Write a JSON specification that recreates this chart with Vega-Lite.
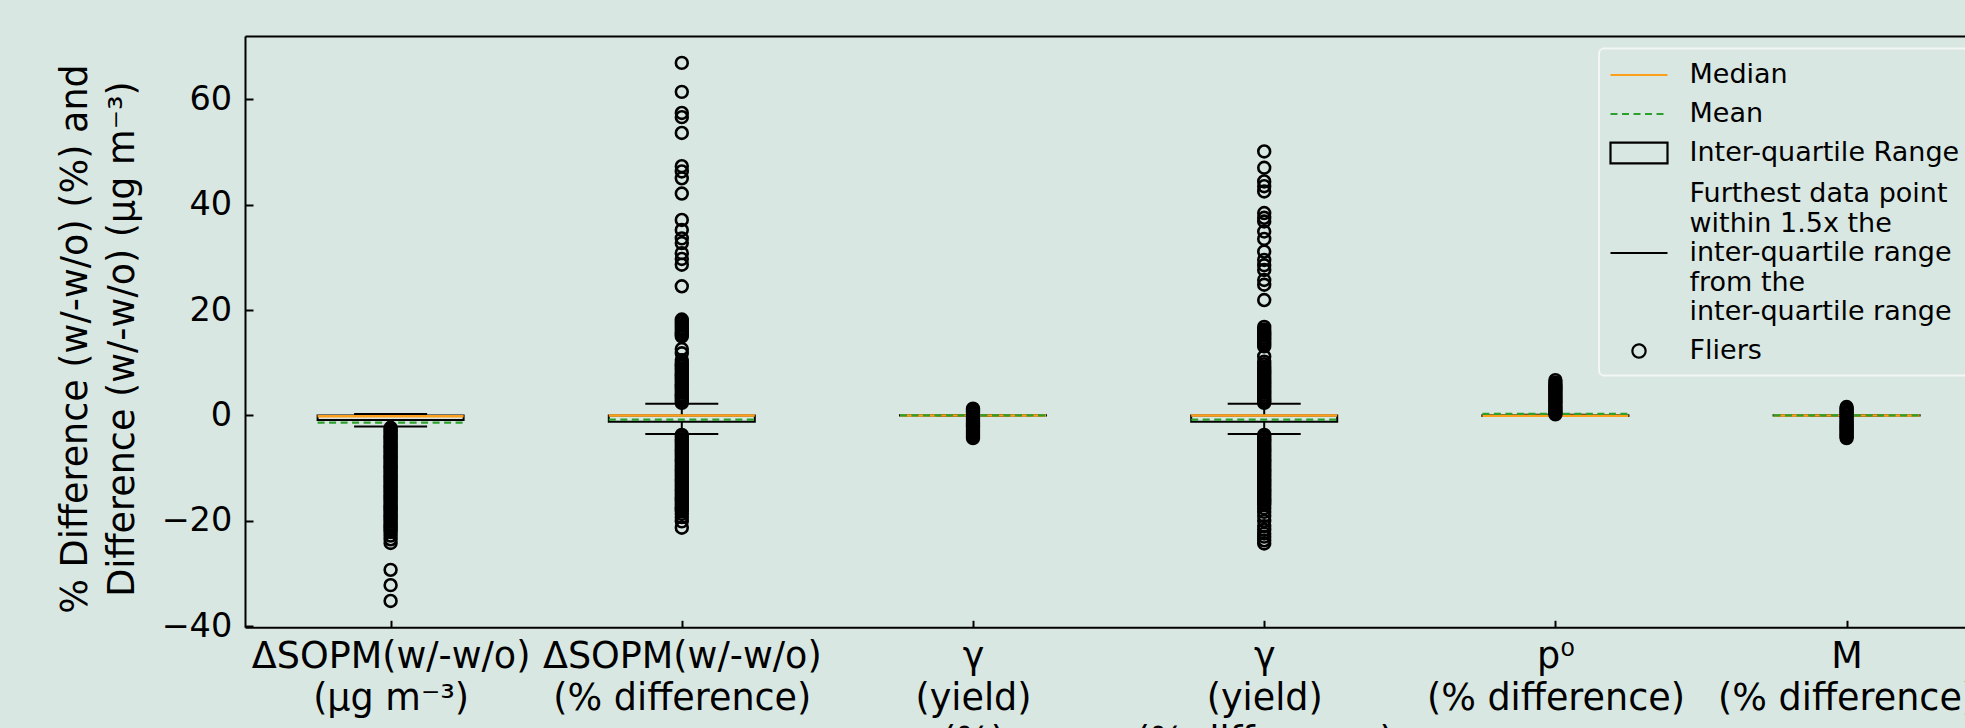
{
  "$schema": "https://vega.github.io/schema/vega-lite/v6.json",
  "width": 1720,
  "height": 591.3,
  "autosize": {"type": "none"},
  "padding": {"left": 245, "top": 36, "right": 0, "bottom": 100.7},
  "background": "#d9e7e2",
  "config": {
    "view": {"stroke": null},
    "font": "DejaVu Sans",
    "axis": {"grid": false, "domainColor": "#000000", "domainWidth": 2, "tickColor": "#000000", "tickWidth": 2, "labelColor": "#000000", "titleColor": "#000000", "labelFont": "DejaVu Sans", "titleFont": "DejaVu Sans", "titleFontWeight": "normal"}
  },
  "datasets": {
    "stats": [
      {"pos": 1, "name": "ΔSOPM(w/-w/o) (μg m⁻³)", "q1": -0.85, "q3": 0.0, "median": -0.15, "mean": -1.37, "lo": -2.1, "hi": 0.28},
      {"pos": 2, "name": "ΔSOPM(w/-w/o) (% difference)", "q1": -1.2, "q3": 0.0, "median": 0.0, "mean": -0.8, "lo": -3.5, "hi": 2.2},
      {"pos": 3, "name": "γ (yield) (%)", "q1": -0.03, "q3": 0.03, "median": 0.0, "mean": 0.02, "lo": -0.08, "hi": 0.08},
      {"pos": 4, "name": "γ (yield) (% difference)", "q1": -1.2, "q3": 0.0, "median": 0.0, "mean": -0.8, "lo": -3.5, "hi": 2.2},
      {"pos": 5, "name": "p⁰ (% difference)", "q1": -0.1, "q3": 0.05, "median": -0.08, "mean": 0.3, "lo": -0.1, "hi": 0.12},
      {"pos": 6, "name": "M (% difference)", "q1": -0.03, "q3": 0.03, "median": 0.0, "mean": 0.0, "lo": -0.08, "hi": 0.08}
    ],
    "fliers": [
      {"pos":1,"v":-2.35},{"pos":1,"v":-2.7},{"pos":1,"v":-3.1},{"pos":1,"v":-3.5},{"pos":1,"v":-3.9},{"pos":1,"v":-4.2},{"pos":1,"v":-4.6},{"pos":1,"v":-5.0},{"pos":1,"v":-5.4},{"pos":1,"v":-5.8},
      {"pos":1,"v":-6.1},{"pos":1,"v":-6.5},{"pos":1,"v":-6.9},{"pos":1,"v":-7.3},{"pos":1,"v":-7.7},{"pos":1,"v":-8.0},{"pos":1,"v":-8.4},{"pos":1,"v":-8.8},{"pos":1,"v":-9.2},{"pos":1,"v":-9.6},
      {"pos":1,"v":-9.9},{"pos":1,"v":-10.3},{"pos":1,"v":-10.7},{"pos":1,"v":-11.1},{"pos":1,"v":-11.5},{"pos":1,"v":-11.8},{"pos":1,"v":-12.2},{"pos":1,"v":-12.6},{"pos":1,"v":-13.0},{"pos":1,"v":-13.4},
      {"pos":1,"v":-13.7},{"pos":1,"v":-14.1},{"pos":1,"v":-14.5},{"pos":1,"v":-14.9},{"pos":1,"v":-15.3},{"pos":1,"v":-15.6},{"pos":1,"v":-16.0},{"pos":1,"v":-16.4},{"pos":1,"v":-16.8},{"pos":1,"v":-17.2},
      {"pos":1,"v":-17.5},{"pos":1,"v":-17.9},{"pos":1,"v":-18.3},{"pos":1,"v":-18.7},{"pos":1,"v":-19.1},{"pos":1,"v":-19.4},{"pos":1,"v":-19.8},{"pos":1,"v":-20.2},{"pos":1,"v":-20.6},{"pos":1,"v":-21.0},
      {"pos":1,"v":-21.3},{"pos":1,"v":-21.7},{"pos":1,"v":-22.1},{"pos":1,"v":-22.8},{"pos":1,"v":-23.5},{"pos":1,"v":-24.2},{"pos":1,"v":-29.3},{"pos":1,"v":-32.2},{"pos":1,"v":-35.2},
      {"pos":2,"v":2.4},{"pos":2,"v":2.8},{"pos":2,"v":3.2},{"pos":2,"v":3.6},{"pos":2,"v":3.9},{"pos":2,"v":4.3},{"pos":2,"v":4.7},{"pos":2,"v":5.1},{"pos":2,"v":5.5},{"pos":2,"v":5.8},
      {"pos":2,"v":6.2},{"pos":2,"v":6.6},{"pos":2,"v":7.0},{"pos":2,"v":7.4},{"pos":2,"v":7.7},{"pos":2,"v":8.1},{"pos":2,"v":8.5},{"pos":2,"v":8.9},{"pos":2,"v":9.3},{"pos":2,"v":9.6},
      {"pos":2,"v":10.0},{"pos":2,"v":10.5},{"pos":2,"v":11.8},{"pos":2,"v":12.6},{"pos":2,"v":15.0},{"pos":2,"v":15.4},{"pos":2,"v":15.8},{"pos":2,"v":16.2},{"pos":2,"v":16.6},{"pos":2,"v":17.0},
      {"pos":2,"v":17.4},{"pos":2,"v":17.8},{"pos":2,"v":18.2},{"pos":2,"v":24.5},{"pos":2,"v":28.6},{"pos":2,"v":29.7},{"pos":2,"v":30.8},{"pos":2,"v":32.7},{"pos":2,"v":33.6},{"pos":2,"v":35.2},
      {"pos":2,"v":37.1},{"pos":2,"v":42.1},{"pos":2,"v":45.0},{"pos":2,"v":46.3},{"pos":2,"v":47.3},{"pos":2,"v":53.6},{"pos":2,"v":56.6},{"pos":2,"v":57.4},{"pos":2,"v":61.4},{"pos":2,"v":66.9},
      {"pos":2,"v":-3.7},{"pos":2,"v":-4.1},{"pos":2,"v":-4.5},{"pos":2,"v":-4.8},{"pos":2,"v":-5.2},{"pos":2,"v":-5.6},{"pos":2,"v":-6.0},{"pos":2,"v":-6.4},{"pos":2,"v":-6.7},{"pos":2,"v":-7.1},
      {"pos":2,"v":-7.5},{"pos":2,"v":-7.9},{"pos":2,"v":-8.3},{"pos":2,"v":-8.6},{"pos":2,"v":-9.0},{"pos":2,"v":-9.4},{"pos":2,"v":-9.8},{"pos":2,"v":-10.2},{"pos":2,"v":-10.5},{"pos":2,"v":-10.9},
      {"pos":2,"v":-11.3},{"pos":2,"v":-11.7},{"pos":2,"v":-12.1},{"pos":2,"v":-12.4},{"pos":2,"v":-12.8},{"pos":2,"v":-13.2},{"pos":2,"v":-13.6},{"pos":2,"v":-14.0},{"pos":2,"v":-14.3},{"pos":2,"v":-14.7},
      {"pos":2,"v":-15.1},{"pos":2,"v":-15.5},{"pos":2,"v":-15.9},{"pos":2,"v":-16.2},{"pos":2,"v":-16.6},{"pos":2,"v":-17.0},{"pos":2,"v":-17.4},{"pos":2,"v":-17.8},{"pos":2,"v":-18.2},{"pos":2,"v":-18.7},
      {"pos":2,"v":-19.3},{"pos":2,"v":-20.1},{"pos":2,"v":-21.3},
      {"pos":3,"v":1.3},{"pos":3,"v":0.95},{"pos":3,"v":0.6},{"pos":3,"v":0.25},{"pos":3,"v":-0.15},{"pos":3,"v":-0.5},{"pos":3,"v":-0.85},{"pos":3,"v":-1.2},{"pos":3,"v":-1.55},{"pos":3,"v":-1.9},
      {"pos":3,"v":-2.25},{"pos":3,"v":-2.6},{"pos":3,"v":-2.95},{"pos":3,"v":-3.3},{"pos":3,"v":-3.65},{"pos":3,"v":-4.0},{"pos":3,"v":-4.3},
      {"pos":4,"v":2.4},{"pos":4,"v":2.8},{"pos":4,"v":3.1},{"pos":4,"v":3.5},{"pos":4,"v":3.9},{"pos":4,"v":4.3},{"pos":4,"v":4.7},{"pos":4,"v":5.0},{"pos":4,"v":5.4},{"pos":4,"v":5.8},
      {"pos":4,"v":6.2},{"pos":4,"v":6.6},{"pos":4,"v":6.9},{"pos":4,"v":7.3},{"pos":4,"v":7.7},{"pos":4,"v":8.1},{"pos":4,"v":8.5},{"pos":4,"v":8.8},{"pos":4,"v":9.2},{"pos":4,"v":9.7},
      {"pos":4,"v":10.2},{"pos":4,"v":11.2},{"pos":4,"v":13.1},{"pos":4,"v":13.5},{"pos":4,"v":13.9},{"pos":4,"v":14.3},{"pos":4,"v":14.7},{"pos":4,"v":15.1},{"pos":4,"v":15.5},{"pos":4,"v":15.9},
      {"pos":4,"v":16.3},{"pos":4,"v":16.8},{"pos":4,"v":21.9},{"pos":4,"v":24.8},{"pos":4,"v":25.7},{"pos":4,"v":27.6},{"pos":4,"v":28.5},{"pos":4,"v":29.5},{"pos":4,"v":31.1},{"pos":4,"v":33.5},
      {"pos":4,"v":34.9},{"pos":4,"v":36.8},{"pos":4,"v":37.5},{"pos":4,"v":38.4},{"pos":4,"v":42.5},{"pos":4,"v":43.5},{"pos":4,"v":44.4},{"pos":4,"v":47.0},{"pos":4,"v":50.1},
      {"pos":4,"v":-3.7},{"pos":4,"v":-4.1},{"pos":4,"v":-4.5},{"pos":4,"v":-4.8},{"pos":4,"v":-5.2},{"pos":4,"v":-5.6},{"pos":4,"v":-6.0},{"pos":4,"v":-6.4},{"pos":4,"v":-6.7},{"pos":4,"v":-7.1},
      {"pos":4,"v":-7.5},{"pos":4,"v":-7.9},{"pos":4,"v":-8.3},{"pos":4,"v":-8.6},{"pos":4,"v":-9.0},{"pos":4,"v":-9.4},{"pos":4,"v":-9.8},{"pos":4,"v":-10.2},{"pos":4,"v":-10.5},{"pos":4,"v":-10.9},
      {"pos":4,"v":-11.3},{"pos":4,"v":-11.7},{"pos":4,"v":-12.1},{"pos":4,"v":-12.4},{"pos":4,"v":-12.8},{"pos":4,"v":-13.2},{"pos":4,"v":-13.6},{"pos":4,"v":-14.0},{"pos":4,"v":-14.3},{"pos":4,"v":-14.7},
      {"pos":4,"v":-15.1},{"pos":4,"v":-15.5},{"pos":4,"v":-15.9},{"pos":4,"v":-16.2},{"pos":4,"v":-16.6},{"pos":4,"v":-17.0},{"pos":4,"v":-17.6},{"pos":4,"v":-18.3},{"pos":4,"v":-19.1},{"pos":4,"v":-20.0},
      {"pos":4,"v":-21.0},{"pos":4,"v":-21.7},{"pos":4,"v":-22.4},{"pos":4,"v":-23.0},{"pos":4,"v":-23.7},{"pos":4,"v":-24.3},
      {"pos":5,"v":0.2},{"pos":5,"v":0.55},{"pos":5,"v":0.9},{"pos":5,"v":1.25},{"pos":5,"v":1.6},{"pos":5,"v":1.95},{"pos":5,"v":2.3},{"pos":5,"v":2.65},{"pos":5,"v":3.0},{"pos":5,"v":3.35},
      {"pos":5,"v":3.7},{"pos":5,"v":4.05},{"pos":5,"v":4.4},{"pos":5,"v":4.75},{"pos":5,"v":5.1},{"pos":5,"v":5.45},{"pos":5,"v":5.8},{"pos":5,"v":6.2},{"pos":5,"v":6.7},
      {"pos":6,"v":1.6},{"pos":6,"v":1.25},{"pos":6,"v":0.9},{"pos":6,"v":0.55},{"pos":6,"v":0.2},{"pos":6,"v":-0.2},{"pos":6,"v":-0.55},{"pos":6,"v":-0.9},{"pos":6,"v":-1.25},{"pos":6,"v":-1.6},
      {"pos":6,"v":-1.95},{"pos":6,"v":-2.3},{"pos":6,"v":-2.65},{"pos":6,"v":-3.0},{"pos":6,"v":-3.35},{"pos":6,"v":-3.7},{"pos":6,"v":-4.0},{"pos":6,"v":-4.3}
    ]
  },
  "resolve": {"axis": {"x": "independent"}},
  "layer": [
    {
      "data": {"name": "stats"},
      "mark": {"type": "rect", "filled": false, "strokeWidth": 2, "xOffset": -73, "x2Offset": 73},
      "encoding": {
        "x": {
          "field": "pos", "type": "quantitative",
          "scale": {"domain": [0.5, 6.4066], "nice": false, "zero": false},
          "axis": {
            "orient": "bottom", "values": [1, 2, 3, 4, 5, 6], "title": null,
            "tickSize": -7, "labelPadding": 18, "labelFontSize": 36.5, "labelLineHeight": 42.5,
            "labelAngle": 0, "labelOverlap": false, "labelBound": false, "labelFlush": false, "labelLimit": 0,
            "labelExpr": "datum.value == 1 ? ['ΔSOPM(w/-w/o)', '(μg m⁻³)'] : datum.value == 2 ? ['ΔSOPM(w/-w/o)', '(% difference)'] : datum.value == 3 ? ['γ', '(yield)', '(%)'] : datum.value == 4 ? ['γ', '(yield)', '(% difference)'] : datum.value == 5 ? ['p⁰', '(% difference)'] : ['M', '(% difference)']"
          }
        },
        "x2": {"field": "pos"},
        "y": {
          "field": "q1", "type": "quantitative",
          "scale": {"domain": [-40.2, 72], "nice": false, "zero": false},
          "axis": {
            "values": [-40, -20, 0, 20, 40, 60], "tickSize": -8, "labelPadding": 21.3, "labelFontSize": 33.5,
            "title": ["% Difference (w/-w/o) (%) and", "Difference (w/-w/o) (μg m⁻³)"],
            "titleFontSize": 36.5, "titleLineHeight": 47, "titlePadding": 20, "titleY": 302.5
          }
        },
        "y2": {"field": "q3"},
        "stroke": {
          "datum": "Inter-quartile Range",
          "scale": {
            "domain": ["Median", "Mean", "Inter-quartile Range", "Whisker", "Fliers"],
            "range": ["#ffa01c", "#2ca02c", "#000000", "#000000", "#000000"]
          },
          "legend": {
            "title": null, "orient": "none", "legendX": 1354, "legendY": 12.5,
            "direction": "vertical", "columns": 1,
            "symbolSize": 784, "symbolStrokeWidth": 2, "symbolOffset": 13.5,
            "labelOffset": 35, "labelFont": "DejaVu Sans", "labelFontSize": 27, "labelColor": "#000000", "labelLimit": 1000,
            "rowPadding": 10, "padding": 11, "cornerRadius": 5,
            "fillColor": "#d9e7e2", "strokeColor": "#f3f6f5",
            "labelExpr": "datum.label == 'Whisker' ? ['Furthest data point', 'within 1.5x the', 'inter-quartile range', 'from the', 'inter-quartile range'] : datum.label",
            "encode": {
              "symbols": {"update": {
                "shape": {"signal": "datum.value === 'Inter-quartile Range' ? 'M-2.036,-0.736H2.036V0.736H-2.036Z' : datum.value === 'Fliers' ? 'M-0.47,0A0.47,0.47,0,1,1,0.47,0A0.47,0.47,0,1,1,-0.47,0Z' : 'M-2.036,0H2.036'"},
                "strokeDash": {"signal": "datum.value === 'Mean' ? [7, 4.5] : [1, 0]"},
                "y": {"signal": "datum.value === 'Whisker' ? datum.size * 0.5 + 59 : datum.size * 0.5"},
                "fill": {"value": "transparent"},
                "opacity": {"value": 1},
                "strokeWidth": {"value": 2.2}
              }},
              "labels": {"update": {"lineHeight": {"value": 29.5}}},
              "legend": {"update": {"strokeWidth": {"value": 2}}}
            }
          }
        }
      }
    },
    {
      "data": {"name": "stats"},
      "mark": {"type": "rule", "strokeWidth": 2},
      "encoding": {
        "x": {"field": "pos", "type": "quantitative", "axis": null},
        "y": {"field": "q3", "type": "quantitative"},
        "y2": {"field": "hi"},
        "stroke": {"datum": "Whisker"}
      }
    },
    {
      "data": {"name": "stats"},
      "mark": {"type": "rule", "strokeWidth": 2},
      "encoding": {
        "x": {"field": "pos", "type": "quantitative", "axis": null},
        "y": {"field": "q1", "type": "quantitative"},
        "y2": {"field": "lo"},
        "stroke": {"datum": "Whisker"}
      }
    },
    {
      "data": {"name": "stats"},
      "mark": {"type": "rule", "strokeWidth": 2, "xOffset": -36.5, "x2Offset": 36.5},
      "encoding": {
        "x": {"field": "pos", "type": "quantitative", "axis": null},
        "x2": {"field": "pos"},
        "y": {"field": "hi", "type": "quantitative"},
        "stroke": {"datum": "Whisker"}
      }
    },
    {
      "data": {"name": "stats"},
      "mark": {"type": "rule", "strokeWidth": 2, "xOffset": -36.5, "x2Offset": 36.5},
      "encoding": {
        "x": {"field": "pos", "type": "quantitative", "axis": null},
        "x2": {"field": "pos"},
        "y": {"field": "lo", "type": "quantitative"},
        "stroke": {"datum": "Whisker"}
      }
    },
    {
      "data": {"name": "stats"},
      "mark": {"type": "rule", "strokeWidth": 2.5, "xOffset": -73, "x2Offset": 73},
      "encoding": {
        "x": {"field": "pos", "type": "quantitative", "axis": null},
        "x2": {"field": "pos"},
        "y": {"field": "median", "type": "quantitative"},
        "stroke": {"datum": "Median"}
      }
    },
    {
      "data": {"name": "stats"},
      "mark": {"type": "rule", "strokeWidth": 2.2, "strokeDash": [7, 4.5], "xOffset": -73, "x2Offset": 73},
      "encoding": {
        "x": {"field": "pos", "type": "quantitative", "axis": null},
        "x2": {"field": "pos"},
        "y": {"field": "mean", "type": "quantitative"},
        "stroke": {"datum": "Mean"}
      }
    },
    {
      "data": {"name": "fliers"},
      "mark": {"type": "point", "shape": "circle", "filled": false, "size": 140, "strokeWidth": 2.6, "opacity": 1},
      "encoding": {
        "x": {"field": "pos", "type": "quantitative", "axis": {"orient": "top", "ticks": false, "labels": false, "title": null, "domain": true}},
        "y": {"field": "v", "type": "quantitative"},
        "stroke": {"datum": "Fliers"}
      }
    }
  ]
}
